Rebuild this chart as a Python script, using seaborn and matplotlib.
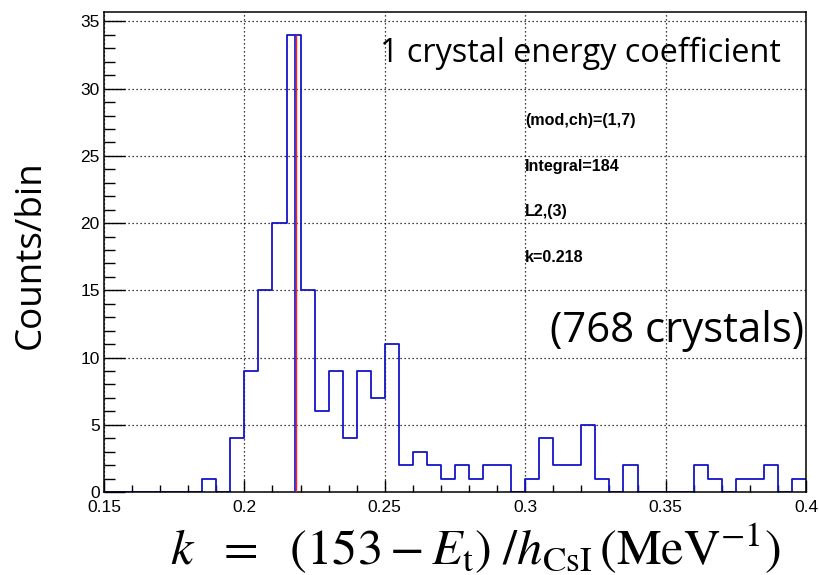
import numpy as np
import pandas as pd
import matplotlib
matplotlib.use("Agg")
import matplotlib.pyplot as plt
import matplotlib.transforms as mtransforms
from matplotlib.ticker import MultipleLocator
import seaborn as sns

# Histogram of the energy coefficient k for one crystal (bin width 0.005)
bin_edges = [round(0.15 + 0.005 * i, 4) for i in range(51)]
counts = [0, 0, 0, 0, 0, 0, 0, 1, 0, 4,
          9, 15, 20, 34, 15, 6, 9, 4, 9, 7,
          11, 2, 3, 2, 1, 2, 1, 2, 2, 0,
          1, 4, 2, 2, 5, 1, 0, 2, 0, 0,
          0, 0, 2, 1, 0, 1, 1, 2, 0, 1]
k_value = 0.218
peak_count = max(counts)

title_text = "1 crystal energy coefficient"
crystals_text = "(768 crystals)"
stat_lines = ["(mod,ch)=(1,7)", f"Integral={sum(counts)}", "L2,(3)", f"k={k_value}"]
x_ticks = [0.15, 0.2, 0.25, 0.3, 0.35, 0.4]
x_tick_labels = ["0.15", "0.2", "0.25", "0.3", "0.35", "0.4"]
y_ticks = [0, 5, 10, 15, 20, 25, 30, 35]

centers = [(a + b) / 2 for a, b in zip(bin_edges[:-1], bin_edges[1:])]
df = pd.DataFrame({"k": centers, "n": counts})

sns.set_theme(style="white")
plt.rcParams["font.family"] = ["Liberation Sans", "DejaVu Sans"]
plt.rcParams["mathtext.fontset"] = "stix"

W, H = 819, 575
fig = plt.figure(figsize=(W / 100, H / 100), dpi=100)
ax = fig.add_axes([104 / W, 1 - 492 / H, (806 - 104) / W, (492 - 12) / H])

sns.histplot(data=df, x="k", weights="n", bins=bin_edges, element="step",
             fill=False, color="#1414c8", linewidth=1.3, ax=ax)

# marker line at the fitted k: blue with a thin red line beside it
ax.plot([k_value, k_value], [0, peak_count], color="#2020d0", lw=1.3,
        solid_capstyle="butt", zorder=4)
shift = mtransforms.offset_copy(ax.transData, fig=fig, x=1.5, y=0, units="dots")
ax.plot([k_value, k_value], [0, peak_count], color="#ff2020", lw=1.0,
        solid_capstyle="butt", transform=shift, zorder=5)

ax.set_xlim(0.15, 0.4)
ax.set_ylim(0, 35.7)
ax.set_xticks(x_ticks)
ax.set_xticklabels(x_tick_labels)
ax.set_yticks(y_ticks)
ax.xaxis.set_minor_locator(MultipleLocator(0.01))
ax.yaxis.set_minor_locator(MultipleLocator(1))

ax.grid(True, which="major", color="black", linestyle=(0, (1, 2.2)), linewidth=0.9)
ax.set_axisbelow(True)
for s in ax.spines.values():
    s.set_color("black")
    s.set_linewidth(1.1)

ax.tick_params(axis="both", which="both", direction="in", colors="black",
               labelsize=12.5, width=1.0, top=False, right=False)
ax.tick_params(axis="y", which="major", length=15, pad=3)
ax.tick_params(axis="y", which="minor", length=8)
ax.tick_params(axis="x", which="major", length=9, pad=5.5)
ax.tick_params(axis="x", which="minor", length=5)
ax.tick_params(axis="x", which="both", bottom=True)
ax.tick_params(axis="y", which="both", left=True)

ax.set_xlabel("")
ax.set_ylabel("")

fig.text(31 / W, 1 - 255 / H, "Counts/bin", rotation=90, ha="center", va="center",
         fontsize=26.5, family=["Open Sans", "DejaVu Sans"], color="black")
fig.text(475 / W, 1 - 565 / H,
         r"$k\ \ =\ \ (153-E_{\mathrm{t}})\ /h_{\mathrm{CsI}}\,(\mathrm{MeV}^{-1})$",
         ha="center", va="baseline", fontsize=36.3, color="black")

fig.text(380 / W, 1 - 62 / H, title_text, ha="left", va="baseline",
         fontsize=23.3, family=["Open Sans", "DejaVu Sans"], color="black")
fig.text(550 / W, 1 - 342 / H, crystals_text, ha="left", va="baseline",
         fontsize=30.2, family=["Open Sans", "DejaVu Sans"], color="black")

for i, line in enumerate(stat_lines):
    fig.text(525 / W, 1 - (125 + 45.7 * i) / H, line, ha="left", va="baseline",
             fontsize=11.6, fontweight="bold", color="black")

fig.savefig("out.png", dpi=100)
